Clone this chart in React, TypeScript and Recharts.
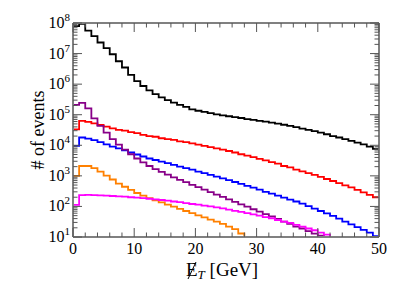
import React from "react";
import { LineChart, Line, XAxis, YAxis } from "recharts";

// lower bin edges, 1 GeV bins; the point at 50 closes the last bin
const binEdges = [
  0, 1, 2, 3, 4, 5, 6, 7, 8, 9, 10, 11, 12, 13, 14, 15, 16, 17, 18, 19, 20, 21,
  22, 23, 24, 25, 26, 27, 28, 29, 30, 31, 32, 33, 34, 35, 36, 37, 38, 39, 40,
  41, 42, 43, 44, 45, 46, 47, 48, 49, 50,
];

const blackCounts = [
  7.9e7, 9.3e7, 5.6e7, 3.7e7, 2.3e7, 1.5e7, 9.5e6, 5.6e6, 3.5e6, 2.0e6, 1.26e6,
  8.7e5, 6.3e5, 4.7e5, 3.7e5, 3.0e5, 2.5e5, 2.1e5, 1.8e5, 1.5e5, 1.35e5,
  1.23e5, 1.12e5, 1.02e5, 9.5e4, 8.9e4, 8.3e4, 7.8e4, 7.2e4, 6.8e4, 6.3e4,
  5.9e4, 5.5e4, 5.1e4, 4.7e4, 4.3e4, 3.9e4, 3.5e4, 3.2e4, 2.9e4, 2.6e4, 2.3e4,
  2.0e4, 1.8e4, 1.6e4, 1.4e4, 1.23e4, 1.07e4, 9.1e3, 7.6e3,
];
const redCounts = [
  3.3e4, 6.3e4, 5.8e4, 5.2e4, 4.6e4, 4.1e4, 3.6e4, 3.2e4, 3.0e4, 2.7e4, 2.5e4,
  2.2e4, 2.0e4, 1.9e4, 1.7e4, 1.6e4, 1.5e4, 1.35e4, 1.26e4, 1.15e4, 1.05e4,
  9.5e3, 8.7e3, 7.9e3, 7.2e3, 6.5e3, 5.8e3, 5.1e3, 4.6e3, 4.1e3, 3.6e3, 3.2e3,
  2.8e3, 2.5e3, 2.1e3, 1.9e3, 1.6e3, 1.4e3, 1.23e3, 1.07e3, 930, 790, 680, 580,
  490, 420, 350, 290, 240, 200,
];
const blueCounts = [
  9.5e3, 1.8e4, 1.66e4, 1.48e4, 1.26e4, 1.07e4, 9.1e3, 7.9e3, 6.8e3, 5.8e3,
  5.0e3, 4.3e3, 3.7e3, 3.3e3, 2.9e3, 2.6e3, 2.3e3, 2.0e3, 1.8e3, 1.6e3, 1.38e3,
  1.23e3, 1.07e3, 950, 830, 720, 630, 550, 470, 410, 355, 300, 263, 224, 195,
  166, 145, 123, 102, 85, 71, 59, 49, 40, 32, 26, 21, 17, 14, 10.7,
];
const purpleCounts = [
  2.1e5, 2.45e5, 1.6e5, 7.6e4, 4.3e4, 2.6e4, 1.6e4, 1.05e4, 7.2e3, 5.1e3,
  3.7e3, 2.75e3, 2.1e3, 1.66e3, 1.35e3, 1.1e3, 890, 740, 620, 510, 430, 355,
  295, 245, 204, 170, 141, 117, 98, 81, 68, 56, 47, 39, 32, 27, 22, 19, 15.5,
  12.9, 11, 8,
];
const orangeCounts = [
  1000, 2.1e3, 2.1e3, 1.8e3, 1.38e3, 1.02e3, 760, 560, 440, 350, 275, 224, 186,
  158, 135, 115, 98, 83, 71, 60, 51, 44, 37, 32, 27, 22, 18, 13, 8,
];
const magentaCounts = [
  112, 234, 240, 234, 229, 224, 219, 214, 209, 200, 195, 186, 178, 170, 162,
  155, 145, 138, 129, 120, 115, 107, 100, 93, 87, 79, 72, 66, 60, 55, 50, 45,
  41, 36, 32, 29, 25, 22, 19, 16.6, 14, 12, 8,
];

const xMajor = [0, 10, 20, 30, 40, 50];
const xTicks = [
  0, 2, 4, 6, 8, 10, 12, 14, 16, 18, 20, 22, 24, 26, 28, 30, 32, 34, 36, 38, 40,
  42, 44, 46, 48, 50,
];
const yMajor = [1e1, 1e2, 1e3, 1e4, 1e5, 1e6, 1e7, 1e8];
const yExponents = [1, 2, 3, 4, 5, 6, 7, 8];
const yTicks: number[] = [];
yMajor.forEach((d, i) => {
  yTicks.push(d);
  if (i < yMajor.length - 1) [2, 3, 4, 5, 6, 7, 8, 9].forEach((m) => yTicks.push(m * d));
});

const pick = (arr: number[], i: number) => {
  if (i < arr.length) return arr[i];
  if (arr.length === 50 && i === 50) return arr[49];
  return null;
};

const data = binEdges.map((x, i) => ({
  x,
  black: pick(blackCounts, i),
  red: pick(redCounts, i),
  blue: pick(blueCounts, i),
  purple: pick(purpleCounts, i),
  orange: pick(orangeCounts, i),
  magenta: pick(magentaCounts, i),
}));

const FONT = "Liberation Serif, Times New Roman, serif";
const TICK = "#555";
const FRAME = { stroke: "#808080", strokeWidth: 2 };
const MAJOR = 9;
const MINOR = 4.5;

const majorIndexY = (v: number) => yMajor.findIndex((m) => Math.abs(m - v) / m < 1e-6);

const BottomTick = (props: any) => {
  const { x, y, payload } = props;
  const major = xMajor.includes(payload.value);
  return (
    <g>
      <line x1={x} y1={y} x2={x} y2={y - (major ? MAJOR : MINOR)} stroke={TICK} />
      {major && (
        <text x={x} y={y + 17} textAnchor="middle" fontSize={16} style={{ fontFamily: FONT }} fill="#000">
          {payload.value}
        </text>
      )}
    </g>
  );
};

const TopTick = (props: any) => {
  const { x, y, payload } = props;
  const major = xMajor.includes(payload.value);
  return <line x1={x} y1={y} x2={x} y2={y + (major ? MAJOR : MINOR)} stroke={TICK} />;
};

const LeftTick = (props: any) => {
  const { x, y, payload } = props;
  const idx = majorIndexY(payload.value);
  const major = idx >= 0;
  return (
    <g>
      <line x1={x} y1={y} x2={x + (major ? MAJOR : MINOR)} y2={y} stroke={TICK} />
      {major && (
        <text x={x - 3} y={y + 5} textAnchor="end" fontSize={16} style={{ fontFamily: FONT }} fill="#000">
          10
          <tspan dy={-7} fontSize={11}>
            {yExponents[idx]}
          </tspan>
        </text>
      )}
    </g>
  );
};

const RightTick = (props: any) => {
  const { x, y, payload } = props;
  const major = majorIndexY(payload.value) >= 0;
  return <line x1={x} y1={y} x2={x - (major ? MAJOR : MINOR)} y2={y} stroke={TICK} />;
};

const series = [
  { key: "black", color: "#000000", side: "a" },
  { key: "red", color: "#ff0000", side: "a" },
  { key: "blue", color: "#0000ff", side: "a" },
  { key: "purple", color: "#880088", side: "b" },
  { key: "orange", color: "#ff8000", side: "b" },
  { key: "magenta", color: "#ff00ff", side: "b" },
];

export default function App() {
  return (
    <div style={{ position: "absolute", left: 0, top: 0, width: 407, height: 285, background: "#fff" }}>
      <LineChart
        width={407}
        height={285}
        data={data}
        margin={{ top: 21, right: 26, bottom: 46, left: 71 }}
      >
        <XAxis
          xAxisId="b"
          dataKey="x"
          type="number"
          domain={[0, 50]}
          ticks={xTicks}
          interval={0}
          height={2}
          tickSize={0}
          tickMargin={0}
          tickLine={false}
          axisLine={FRAME}
          tick={BottomTick}
          allowDataOverflow
        />
        <XAxis
          xAxisId="t"
          orientation="top"
          dataKey="x"
          type="number"
          domain={[0, 50]}
          ticks={xTicks}
          interval={0}
          height={2}
          tickSize={0}
          tickMargin={0}
          tickLine={false}
          axisLine={FRAME}
          tick={TopTick}
          allowDataOverflow
        />
        <YAxis
          yAxisId="l"
          scale="log"
          type="number"
          domain={[10, 1e8]}
          ticks={yTicks}
          interval={0}
          width={2}
          tickSize={0}
          tickMargin={0}
          tickLine={false}
          axisLine={FRAME}
          tick={LeftTick}
          allowDataOverflow
        />
        <YAxis
          yAxisId="r"
          orientation="right"
          scale="log"
          type="number"
          domain={[10, 1e8]}
          ticks={yTicks}
          interval={0}
          width={2}
          tickSize={0}
          tickMargin={0}
          tickLine={false}
          axisLine={FRAME}
          tick={RightTick}
          allowDataOverflow
        />
        {series.map((s) => (
          <Line
            key={s.key}
            xAxisId={s.side === "a" ? "b" : "t"}
            yAxisId={s.side === "a" ? "l" : "r"}
            dataKey={s.key}
            type="stepAfter"
            stroke={s.color}
            strokeWidth={1.8}
            dot={false}
            isAnimationActive={false}
          />
        ))}
      </LineChart>
      <svg
        width={407}
        height={285}
        style={{ position: "absolute", left: 0, top: 0, pointerEvents: "none", fontFamily: FONT }}
      >
        <text transform="translate(44,130) rotate(-90)" textAnchor="middle" fontSize={18} fill="#000">
          # of events
        </text>
        <text x={186} y={276} fontSize={19} fill="#000">
          E
          <tspan dy={3} fontSize={13} fontStyle="italic">
            T
          </tspan>
          <tspan dy={-3}> [GeV]</tspan>
        </text>
        <line x1={188} y1={279} x2={196} y2={262} stroke="#000" strokeWidth={1} />
      </svg>
    </div>
  );
}
